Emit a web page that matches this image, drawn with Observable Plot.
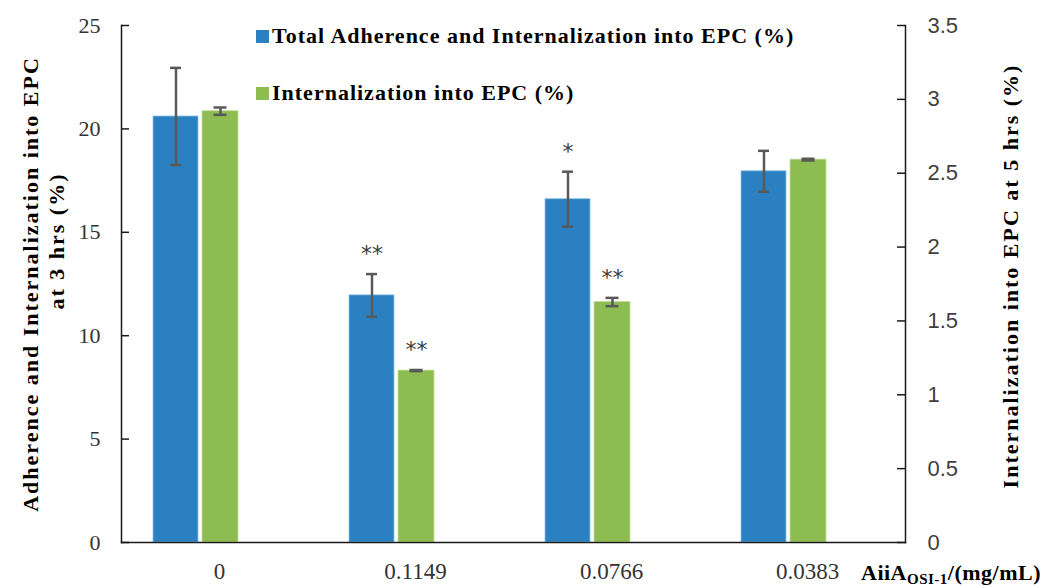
<!DOCTYPE html>
<html>
<head>
<meta charset="utf-8">
<script src="https://cdn.jsdelivr.net/npm/d3@7"></script>
<script src="https://cdn.jsdelivr.net/npm/@observablehq/plot@0.6"></script>
<style>
  html, body { margin: 0; padding: 0; background: #fff; }
  #wrap { position: relative; width: 1047px; height: 588px; overflow: hidden; }
  .legend { position: absolute; left: 256px; height: 22px; line-height: 22px; font-family: "Liberation Serif", "Times New Roman", serif; font-weight: bold; font-size: 22px; color: #000; white-space: nowrap; display: flex; align-items: center; letter-spacing: 1px; }
  .legend .sw { width: 13px; height: 13px; display: inline-block; margin-right: 3px; }
</style>
</head>
<body>
<div id="wrap">
  <div class="legend" id="leg1" style="top:25px"><span class="sw" style="background:#2a80c1"></span><span>Total Adherence and Internalization into EPC (%)</span></div>
  <div class="legend" id="leg2" style="top:82px"><span class="sw" style="background:#8dbd50"></span><span>Internalization into EPC (%)</span></div>
</div>
<script>
// ---- data ----
const categories = ["0", "0.1149", "0.0766", "0.0383"];
const totalValues = [20.6, 11.95, 16.6, 17.95];          // left axis (%)
const totalErrors = [2.35, 1.03, 1.33, 0.99];
const internValues = [2.92, 1.164, 1.628, 2.592];        // right axis (%)
const internErrors = [0.025, 0.004, 0.028, 0.006];
const totalSig = ["", "**", "*", ""];
const internSig = ["", "**", "**", ""];
const leftTicks = [0, 5, 10, 15, 20, 25];
const rightTicks = [0, 0.5, 1, 1.5, 2, 2.5, 3, 3.5];
const leftMax = 25;
const rightMax = 3.5;
const leftTitle1 = "Adherence and Internalization into EPC";
const leftTitle2 = "at 3 hrs (%)";
const rightTitle = "Internalization into EPC at 5 hrs (%)";

// ---- styles ----
const BLUE = "#2a80c1";
const GREEN = "#8dbd50";
const ERR = "#595959";
const SERIF = "'Liberation Serif', 'Times New Roman', serif";
const SANS = "'Liberation Sans', Arial, sans-serif";

const factor = leftMax / rightMax;
const rows = categories.map((c, i) => ({
  cat: c,
  total: totalValues[i], totalErr: totalErrors[i], tSig: totalSig[i],
  intern: internValues[i], internErr: internErrors[i], iSig: internSig[i]
}));

const titleStyle = { rotate: -90, textAnchor: "middle", fontSize: 22, fontWeight: "bold", fontFamily: SERIF, fill: "#000" };

const chart = Plot.plot({
  width: 1047,
  height: 588,
  marginLeft: 121,
  marginRight: 142,
  marginTop: 25,
  marginBottom: 46,
  style: { fontFamily: SERIF, background: "transparent", overflow: "visible" },
  x: { type: "band", domain: categories, padding: 0, axis: null },
  y: { domain: [0, leftMax], axis: null },
  marks: [
    // bars
    Plot.barY(rows, { x: "cat", y: "total", fill: BLUE, stroke: "#8fc0e6", strokeWidth: 0.8, insetLeft: 32, insetRight: 119 }),
    Plot.barY(rows, { x: "cat", y: d => d.intern * factor, fill: GREEN, stroke: "#c4df9f", strokeWidth: 0.8, insetLeft: 81, insetRight: 79 }),
    // error bars (blue)
    Plot.ruleX(rows, { x: "cat", y1: d => d.total - d.totalErr, y2: d => d.total + d.totalErr, dx: -43.5, stroke: ERR, strokeWidth: 2.5 }),
    Plot.tickY(rows, { x: "cat", y: d => d.total + d.totalErr, insetLeft: 49, insetRight: 136, stroke: ERR, strokeWidth: 2.5 }),
    Plot.tickY(rows, { x: "cat", y: d => d.total - d.totalErr, insetLeft: 49, insetRight: 136, stroke: ERR, strokeWidth: 2.5 }),
    // error bars (green)
    Plot.ruleX(rows, { x: "cat", y1: d => (d.intern - d.internErr) * factor, y2: d => (d.intern + d.internErr) * factor, dx: 1, stroke: ERR, strokeWidth: 2.5 }),
    Plot.tickY(rows, { x: "cat", y: d => (d.intern + d.internErr) * factor, insetLeft: 92.5, insetRight: 90.5, stroke: ERR, strokeWidth: 2.5 }),
    Plot.tickY(rows, { x: "cat", y: d => (d.intern - d.internErr) * factor, insetLeft: 92.5, insetRight: 90.5, stroke: ERR, strokeWidth: 2.5 }),
    // significance marks
    Plot.text(rows.filter(d => d.tSig), { x: "cat", y: d => d.total + d.totalErr, text: "tSig", dx: -43.5, dy: -20, fontSize: 22, fontFamily: "'DejaVu Sans', sans-serif", fill: "#3a3a3a" }),
    Plot.text(rows.filter(d => d.iSig), { x: "cat", y: d => (d.intern + d.internErr) * factor, text: "iSig", dx: 1, dy: -20, fontSize: 22, fontFamily: "'DejaVu Sans', sans-serif", fill: "#3a3a3a" }),
    // axis lines
    Plot.frame({ anchor: "left", stroke: "#1a1a1a", strokeWidth: 1.5 }),
    Plot.frame({ anchor: "right", stroke: "#1a1a1a", strokeWidth: 1.5 }),
    Plot.frame({ anchor: "bottom", stroke: "#1a1a1a", strokeWidth: 1.5 }),
    // inward tick marks
    Plot.tickY(leftTicks, { y: d => d, insetRight: 776, stroke: "#1a1a1a", strokeWidth: 1.5 }),
    Plot.tickY(rightTicks, { y: d => d * factor, insetLeft: 776, stroke: "#1a1a1a", strokeWidth: 1.5 }),
    // left axis labels
    Plot.axisY(leftTicks, { anchor: "left", tickSize: 0, tickPadding: 21, fontSize: 22, fontFamily: SERIF, fill: "#333", label: null }),
    // right axis labels (secondary scale)
    Plot.axisY(rightTicks.map(t => t * factor), { anchor: "right", tickSize: 0, tickPadding: 22, fontSize: 22, fontFamily: SANS, fill: "#404040", label: null,
      tickFormat: v => String(Math.round(v / factor * 10) / 10) }),
    // x labels
    Plot.axisX({ tickSize: 0, tickPadding: 20, fontSize: 23, fontFamily: SERIF, fill: "#333", label: null }),
    // axis titles
    Plot.text([leftTitle1], { frameAnchor: "left", dx: -91, dy: 0, ...titleStyle }),
    Plot.text([leftTitle2], { frameAnchor: "left", dx: -65, dy: -43, ...titleStyle }),
    Plot.text([rightTitle], { frameAnchor: "right", dx: 105, dy: -8, ...titleStyle })
  ]
});

const wrap = document.getElementById("wrap");
chart.style.position = "absolute";
chart.style.left = "0";
chart.style.top = "0";
wrap.insertBefore(chart, wrap.firstChild);

// letter spacing for axis titles
const titles = [leftTitle1, leftTitle2, rightTitle];
d3.select(chart).selectAll("text")
  .filter(function () { return titles.includes(this.textContent); })
  .attr("letter-spacing", 2);

// x-axis title with subscript
const xt = d3.select(chart).append("text")
  .attr("x", 861).attr("y", 580)
  .attr("text-anchor", "start")
  .attr("letter-spacing", 0.5)
  .attr("font-family", SERIF).attr("font-weight", "bold").attr("font-size", 22).attr("fill", "#000");
xt.append("tspan").text("AiiA");
xt.append("tspan").attr("font-size", 15).attr("dy", 4).text("OSI-1");
xt.append("tspan").attr("dy", -4).text("/(mg/mL)");
</script>
</body>
</html>
